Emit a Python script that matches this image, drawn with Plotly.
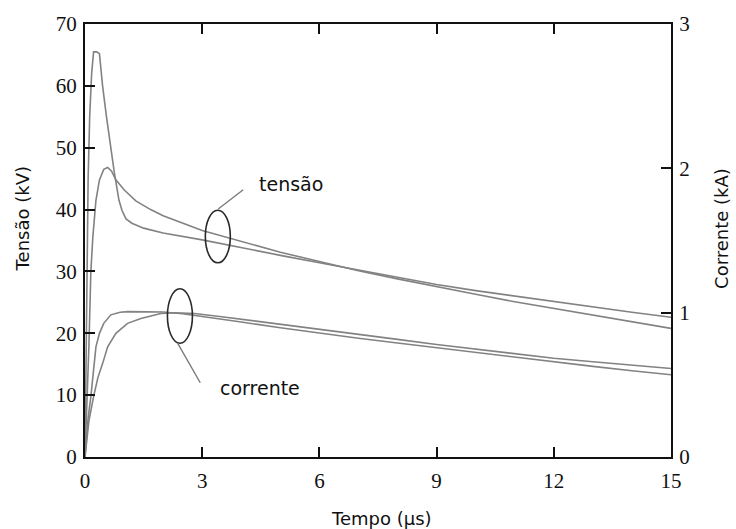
import plotly.graph_objects as go

# Time axis samples (µs) and voltages (kV) for the two voltage waveforms
t_volt_a = [0, 0.02, 0.05, 0.08, 0.12, 0.17, 0.22, 0.3, 0.37, 0.45, 0.55, 0.66, 0.75,
            0.87, 0.95, 1.05, 1.2, 1.5, 2.0, 3.0, 4.0, 5.0, 6.0, 7.0, 8.0, 9.0, 10.0,
            11.0, 12.0, 13.0, 14.0, 15.0]
volt_a = [0, 12, 30, 45, 55, 62, 65.5, 65.5, 65.2, 60, 55, 50, 46,
          41.5, 39.8, 38.5, 37.8, 37.0, 36.2, 35.1, 33.8, 32.6, 31.4, 30.2, 29.0, 27.9, 26.9,
          26.0, 25.1, 24.2, 23.4, 22.6]

t_volt_b = [0, 0.05, 0.1, 0.15, 0.2, 0.28, 0.37, 0.48, 0.58, 0.68, 0.79, 1.0, 1.3,
            1.68, 2.0, 3.0, 4.0, 5.0, 6.0, 7.0, 8.0, 9.0, 10.0, 11.0, 12.0, 13.0,
            14.0, 15.0]
volt_b = [0, 8, 18, 30, 35.5, 41.5, 44.8, 46.5, 46.8, 46.2, 44.8, 43.2, 41.4,
          40.0, 39.0, 36.6, 34.8, 33.1, 31.6, 30.1, 28.8, 27.5, 26.3, 25.1, 24.0, 22.9,
          21.8, 20.8]

# Currents (kA) for the two current waveforms
t_curr_f = [0, 0.03, 0.08, 0.15, 0.22, 0.28, 0.37, 0.48, 0.66, 0.9, 1.1, 1.5, 2.0,
            2.5, 3.0, 4.0, 5.0, 6.0, 7.0, 8.0, 9.0, 10.0, 11.0, 12.0, 13.0, 14.0, 15.0]
curr_f = [0, 0.12, 0.27, 0.418, 0.62, 0.763, 0.857, 0.926, 0.985, 1.003, 1.007, 1.008, 1.005,
          0.993, 0.975, 0.935, 0.895, 0.858, 0.823, 0.79, 0.757, 0.725, 0.694, 0.663,
          0.628, 0.598, 0.570]

t_curr_s = [0, 0.04, 0.1, 0.22, 0.33, 0.45, 0.58, 0.79, 1.09, 1.43, 1.94, 2.3, 2.8,
            3.5, 4.0, 5.0, 6.0, 7.0, 8.0, 9.0, 10.0, 11.0, 12.0, 13.0, 14.0, 15.0]
curr_s = [0, 0.1, 0.25, 0.418, 0.55, 0.647, 0.763, 0.857, 0.926, 0.96, 0.994, 0.999, 0.994,
          0.972, 0.955, 0.92, 0.885, 0.85, 0.815, 0.78, 0.748, 0.716, 0.684, 0.66,
          0.636, 0.613]

x_ticks = [0, 3, 6, 9, 12, 15]
y_ticks = [0, 10, 20, 30, 40, 50, 60, 70]
y2_ticks = [0, 1, 2, 3]

CURVE = "#828282"
SERIF = "Liberation Serif"
SANS = "DejaVu Sans"

fig = go.Figure()
line_style = dict(color=CURVE, width=1.6)
fig.add_trace(go.Scatter(x=t_volt_a, y=volt_a, mode="lines", line=line_style, yaxis="y"))
fig.add_trace(go.Scatter(x=t_volt_b, y=volt_b, mode="lines", line=line_style, yaxis="y"))
fig.add_trace(go.Scatter(x=t_curr_f, y=curr_f, mode="lines", line=line_style, yaxis="y2"))
fig.add_trace(go.Scatter(x=t_curr_s, y=curr_s, mode="lines", line=line_style, yaxis="y2"))

tick_font = dict(family=SERIF, size=21, color="#111111")
axis_common = dict(
    showgrid=False, zeroline=False, showline=True, linecolor="#111111", linewidth=2,
    ticks="inside", ticklen=10, tickwidth=1.5, tickcolor="#111111", tickfont=tick_font,
)

fig.update_layout(
    width=736, height=529,
    margin=dict(l=85, r=65, t=24, b=72),
    paper_bgcolor="white", plot_bgcolor="white",
    showlegend=False,
    xaxis=dict(range=[0, 15], tickvals=x_ticks, mirror="ticks",
               ticklabelstandoff=4, **axis_common),
    yaxis=dict(range=[0, 70], tickvals=y_ticks, mirror=True,
               ticklabelstandoff=2, **axis_common),
    yaxis2=dict(range=[0, 3], tickvals=y2_ticks, overlaying="y", side="right",
                ticklabelstandoff=2, **axis_common),
)

# Ellipses grouping the curve pairs, with leader lines
ellipse = dict(type="circle", xref="x", yref="y", line=dict(color="#2a2a2a", width=1.6))
fig.add_shape(x0=3.08, x1=3.72, y0=31.4, y1=39.9, **ellipse)
fig.add_shape(x0=2.11, x1=2.75, y0=18.4, y1=27.2, **ellipse)
leader = dict(type="line", xref="x", yref="y", line=dict(color="#7a7a7a", width=1.4))
fig.add_shape(x0=3.41, y0=40.1, x1=4.05, y1=43.2, **leader)
fig.add_shape(x0=2.37, y0=18.4, x1=2.95, y1=12.0, **leader)

label_font = dict(family=SANS, size=19, color="#111111")
fig.add_annotation(x=4.39, y=44.1, xref="x", yref="y", text="tensão", showarrow=False,
                   xanchor="left", yanchor="middle", font=label_font)
fig.add_annotation(x=3.41, y=11.1, xref="x", yref="y", text="corrente", showarrow=False,
                   xanchor="left", yanchor="middle", font=label_font)

# Axis titles
title_font = dict(family=SANS, size=18, color="#111111")
fig.add_annotation(x=0.5055, y=-0.141, xref="paper", yref="paper", text="Tempo (µs)",
                   showarrow=False, xanchor="center", yanchor="middle", font=title_font)
fig.add_annotation(x=-0.1066, y=0.55, xref="paper", yref="paper", text="Tensão (kV)",
                   showarrow=False, textangle=-90, xanchor="center", yanchor="middle",
                   font=title_font)
fig.add_annotation(x=1.087, y=0.529, xref="paper", yref="paper", text="Corrente (kA)",
                   showarrow=False, textangle=-90, xanchor="center", yanchor="middle",
                   font=title_font)

fig.write_html("out.html")
